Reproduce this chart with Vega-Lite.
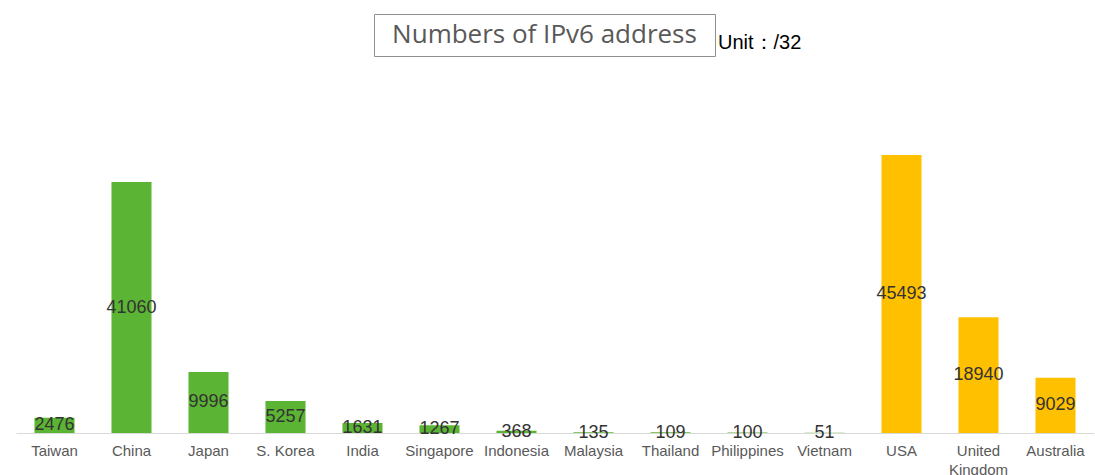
{
  "$schema": "https://vega.github.io/schema/vega-lite/v6.json",
  "padding": {"left": 16, "top": 13, "right": 1, "bottom": 0},
  "autosize": {"type": "pad"},
  "background": "white",
  "spacing": 86,
  "bounds": "flush",
  "config": {"view": {"stroke": null}, "font": "Liberation Sans"},
  "vconcat": [
    {
      "bounds": "flush",
      "hconcat": [
        {
          "width": 338,
          "height": 42,
          "data": {"values": [{}]},
          "mark": {"type": "text", "text": ""}
        },
        {
          "width": 341,
          "height": 42,
          "view": {"stroke": "#8f8f8f", "strokeWidth": 1},
          "data": {"values": [{"t": "Numbers of  IPv6 address"}]},
          "title": {"text": "Unit：/32", "orient": "bottom", "anchor": "end", "frame": "group", "align": "left", "baseline": "alphabetic", "offset": 0, "dx": 3, "dy": -7, "fontSize": 20, "fontWeight": "normal", "color": "#000000", "font": "Liberation Sans"},
          "mark": {"type": "text", "font": "Open Sans", "fontSize": 26, "color": "#595959", "baseline": "middle"},
          "encoding": {
            "text": {"field": "t"}
          }
        }
      ]
    },
    {
      "width": 1078,
      "height": 333,
      "data": {"values": [
        {"country": "Taiwan", "value": 2476, "group": "Asia"},
        {"country": "China", "value": 41060, "group": "Asia"},
        {"country": "Japan", "value": 9996, "group": "Asia"},
        {"country": "S. Korea", "value": 5257, "group": "Asia"},
        {"country": "India", "value": 1631, "group": "Asia"},
        {"country": "Singapore", "value": 1267, "group": "Asia"},
        {"country": "Indonesia", "value": 368, "group": "Asia"},
        {"country": "Malaysia", "value": 135, "group": "Asia"},
        {"country": "Thailand", "value": 109, "group": "Asia"},
        {"country": "Philippines", "value": 100, "group": "Asia"},
        {"country": "Vietnam", "value": 51, "group": "Asia"},
        {"country": "USA", "value": 45493, "group": "Other"},
        {"country": "United Kingdom", "value": 18940, "group": "Other"},
        {"country": "Australia", "value": 9029, "group": "Other"}
      ]},
      "encoding": {
        "x": {"field": "country", "type": "nominal", "sort": null,
          "scale": {"paddingInner": 0.48, "paddingOuter": 0.24},
          "axis": {"title": null, "labelAngle": 0, "ticks": false, "tickSize": 0, "labelPadding": 10, "labelFontSize": 15, "labelColor": "#595959", "labelFont": "Liberation Sans", "labelLineHeight": 19, "labelOverlap": false, "labelLimit": 0, "labelBaseline": "top", "domainColor": "#d9d9d9", "domainWidth": 1,
            "labelExpr": "datum.value == 'United Kingdom' ? ['United', 'Kingdom'] : datum.value"}}
      },
      "layer": [
        {
          "mark": {"type": "bar"},
          "encoding": {
            "y": {"field": "value", "type": "quantitative", "scale": {"domain": [0, 54494], "nice": false}, "axis": null},
            "color": {"field": "group", "type": "nominal", "scale": {"domain": ["Asia", "Other"], "range": ["#5bb433", "#ffc000"]}, "legend": null}
          }
        },
        {
          "mark": {"type": "text", "fontSize": 18, "color": "#333333", "baseline": "middle", "font": "Liberation Sans"},
          "encoding": {
            "y": {"field": "value", "type": "quantitative", "scale": {"domain": [0, 108988], "nice": false}, "axis": null},
            "text": {"field": "value", "type": "quantitative", "format": "d"}
          }
        }
      ],
      "resolve": {"scale": {"y": "independent"}}
    }
  ]
}
